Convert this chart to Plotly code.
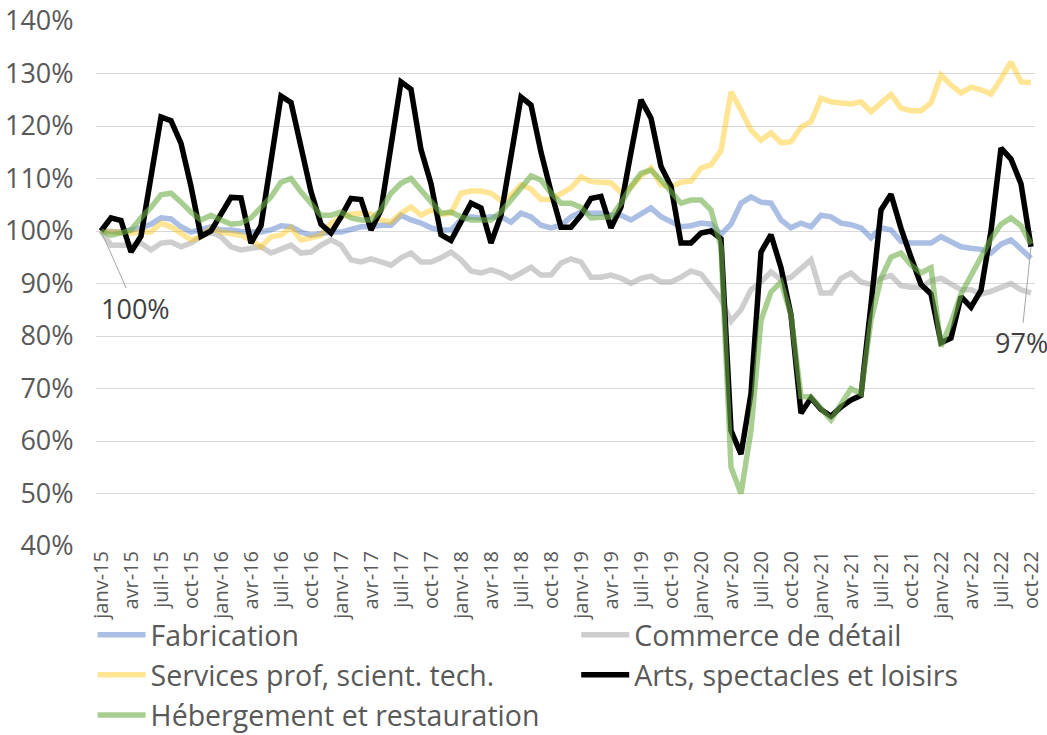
import plotly.graph_objects as go

months_fr = ["janv", "févr", "mars", "avr", "mai", "juin", "juil", "août", "sept", "oct", "nov", "déc"]
categories = [f"{m}-{y:02d}" for y in range(15, 23) for m in months_fr][:94]

fabrication = [100, 100, 99.8, 100.2, 100.6, 101.3, 102.5, 102.3, 100.8, 99.8, 100.2, 100.8,
               100.2, 100.2, 99.9, 99.8, 99.8, 100.2, 101, 100.8, 99.8, 99.2, 99.6, 99.8,
               99.8, 100.2, 100.8, 100.8, 101.1, 101.1, 103, 102.1, 101.5, 100.6, 100.2, 100.2,
               102.1, 102.7, 102.5, 102.7, 102.7, 101.7, 103.4, 102.7, 101.1, 100.6, 101.1, 102.7,
               103.6, 103.4, 103.4, 103, 103, 102.1, 103.4, 104.4, 102.7, 101.7, 100.8, 101,
               101.5, 101.3, 99.4, 101.3, 105.3, 106.5, 105.5, 105.3, 102.1, 100.6, 101.5, 100.8,
               103, 102.7, 101.5, 101.2, 100.6, 98.7, 100.6, 100.2, 98, 97.7, 97.7, 97.7,
               98.9, 98, 97, 96.7, 96.5, 95.8, 97.5, 98.3, 96.5, 94.8]

commerce = [100, 97.3, 97.3, 97.3, 97.7, 96.4, 97.7, 97.9, 97, 97.7, 98.9, 99.8,
            98.9, 97, 96.4, 96.8, 97, 95.8, 96.6, 97.3, 95.8, 96, 97.3, 98.3,
            97.3, 94.5, 94.1, 94.7, 94.1, 93.5, 94.9, 95.8, 94.1, 94.1, 94.9, 96,
            94.5, 92.4, 92, 92.6, 92, 91, 92, 93.1, 91.6, 91.6, 93.9, 94.7,
            94.1, 91.2, 91.2, 91.6, 91, 90, 91, 91.4, 90.3, 90.3, 91.2, 92.4,
            91.8, 89.5, 87, 82.8, 85, 88.8, 90.3, 92.2, 90.7, 91.2, 93, 94.5,
            88.2, 88.2, 91, 92, 90.3, 89.8, 91, 91.5, 89.6, 89.3, 89.3, 90.5,
            91, 89.8, 88.8, 88.8, 88, 88.5, 89.2, 90, 88.8, 88.2]

services = [100, 99.8, 99.7, 99.6, 99.8, 99.8, 101.5, 100.8, 99.6, 98.3, 98.9, 100.6,
            99.8, 99.6, 99.2, 98.3, 97, 98.9, 99.2, 100.6, 98.3, 98.7, 99.2, 101.5,
            102.7, 103.2, 103.4, 103.2, 102.1, 101.7, 103.4, 104.6, 103, 104, 103.2, 103.4,
            107.2, 107.6, 107.6, 107.2, 105.8, 106.8, 108.8, 108, 106, 106, 107.2, 108.2,
            110.3, 109.4, 109.3, 109.2, 107.3, 108.3, 110.5, 112, 108.8, 108.4, 109.3, 109.5,
            112, 112.6, 115.3, 126.5, 123, 119.2, 117.3, 118.7, 116.8, 117, 119.8, 120.8,
            125.3, 124.6, 124.4, 124.2, 124.6, 122.7, 124.4, 126, 123.4, 122.9, 122.9, 124.4,
            129.7, 127.8, 126.3, 127.4, 126.9, 126.1, 129, 132.2, 128.4, 128.3]

arts = [100, 102.5, 102, 96, 99, 110, 121.7, 121, 116.7, 108.5, 99, 100,
        103.2, 106.4, 106.3, 97.7, 101, 114, 125.7, 124.5, 116, 107.5, 101.3, 99.6,
        102.7, 106.2, 106, 100.2, 104, 116.5, 128.4, 127, 115.5, 109, 99.3, 98.2,
        101.8, 105.3, 104.4, 97.7, 103, 114.5, 125.5, 124, 115, 107.5, 100.7, 100.7,
        103, 106.2, 106.6, 100.6, 104.6, 115, 125, 121.5, 112.3, 108.5, 97.7, 97.7,
        99.6, 100, 98.5, 62, 57.5, 69, 96, 99.3, 93, 84, 65.3, 68.2,
        66, 64.7, 66.5, 67.8, 68.7, 86, 104, 107, 100.5, 95, 89.8, 88,
        78.7, 79.6, 87.5, 85.5, 88.7, 100, 115.8, 113.7, 109, 97]

hebergement = [100, 99.2, 99.6, 100.2, 102.5, 104.5, 106.9, 107.2, 105.5, 103.6, 102.1, 103,
               102.1, 101.3, 101.5, 102.5, 104.5, 106.5, 109.3, 110, 107.4, 105.3, 103, 103,
               103.6, 102.5, 102.1, 102.1, 104, 107.2, 109.1, 110, 107.8, 105.5, 103.4, 103.6,
               102.7, 102.1, 102.1, 102.1, 103.6, 105.9, 108.4, 110.5, 109.7, 107.2, 105.3, 105.3,
               104.5, 102.5, 102.6, 102.7, 105.3, 108.5, 111, 111.6, 109.7, 107.4, 105.3, 105.9,
               105.9, 104, 97, 55, 50, 62, 83, 88.4, 90.3, 84, 68.5, 68.4,
               66, 64, 67, 70, 69, 83, 91, 95, 95.8, 93.5, 92, 93,
               78, 82.5, 88, 91.5, 95, 98.5, 101.3, 102.5, 101, 97.5]

y_ticks = [40, 50, 60, 70, 80, 90, 100, 110, 120, 130, 140]
y_ticktext = [f"{v}%" for v in y_ticks]

FONT = "Open Sans"
TXT = "#595959"

series = [
    ("Fabrication", fabrication, "rgba(68,114,196,0.45)", "legend", 5.5),
    ("Commerce de détail", commerce, "rgba(165,165,165,0.55)", "legend2", 5.5),
    ("Services prof, scient. tech.", services, "rgba(255,192,0,0.42)", "legend", 5.5),
    ("Arts, spectacles et loisirs", arts, "#000000", "legend2", 5.5),
    ("Hébergement et restauration", hebergement, "rgba(112,173,71,0.6)", "legend", 5.5),
]

fig = go.Figure()
for i, (name, vals, color, leg, w) in enumerate(series):
    fig.add_trace(go.Scatter(
        x=categories, y=vals, mode="lines", name=name,
        line=dict(color=color, width=w), legend=leg, legendgroup=f"g{i}",
        hoverinfo="skip",
    ))

fig.add_annotation(x=categories[0], y=arts[0], text=f"{arts[0]:.0f}%", showarrow=True,
                   arrowhead=0, arrowwidth=1, arrowcolor="#A6A6A6", ax=34, ay=77,
                   font=dict(family=FONT, size=27, color="#404040"))
fig.add_annotation(x=categories[-1], y=arts[-1], text=f"{arts[-1]:.0f}%", showarrow=True,
                   arrowhead=0, arrowwidth=1, arrowcolor="#A6A6A6", ax=-10, ay=96,
                   font=dict(family=FONT, size=27, color="#404040"))

leg_common = dict(orientation="v", yanchor="top", y=-0.1215, traceorder="grouped",
                  tracegroupgap=0, font=dict(family=FONT, size=28.5, color=TXT),
                  bgcolor="rgba(0,0,0,0)", itemwidth=48)

fig.update_layout(
    width=1047, height=735,
    margin=dict(l=96, r=12, t=21, b=189, autoexpand=False),
    paper_bgcolor="white", plot_bgcolor="white",
    font=dict(family=FONT, color=TXT),
    legend=dict(x=-0.0036, xanchor="left", **leg_common),
    legend2=dict(x=0.5114, xanchor="left", **leg_common),
    xaxis=dict(
        type="category", range=[-0.5, 93.4],
        tickmode="array", tickvals=categories[::3], ticktext=categories[::3],
        tickangle=-90, tickfont=dict(family=FONT, size=20, color=TXT),
        showgrid=False, showline=False, zeroline=False, ticks="",
    ),
    yaxis=dict(
        range=[40, 140], tickmode="array", tickvals=y_ticks, ticktext=y_ticktext,
        tickfont=dict(family=FONT, size=27, color=TXT),
        showgrid=True, gridcolor="#D9D9D9", gridwidth=1, zeroline=False, showline=False,
        ticks="outside", ticklen=16, tickcolor="rgba(0,0,0,0)",
    ),
)

fig.write_html("out.html", config={"displayModeBar": False},
               post_script="document.body.style.margin='0';document.body.style.overflow='hidden';")
